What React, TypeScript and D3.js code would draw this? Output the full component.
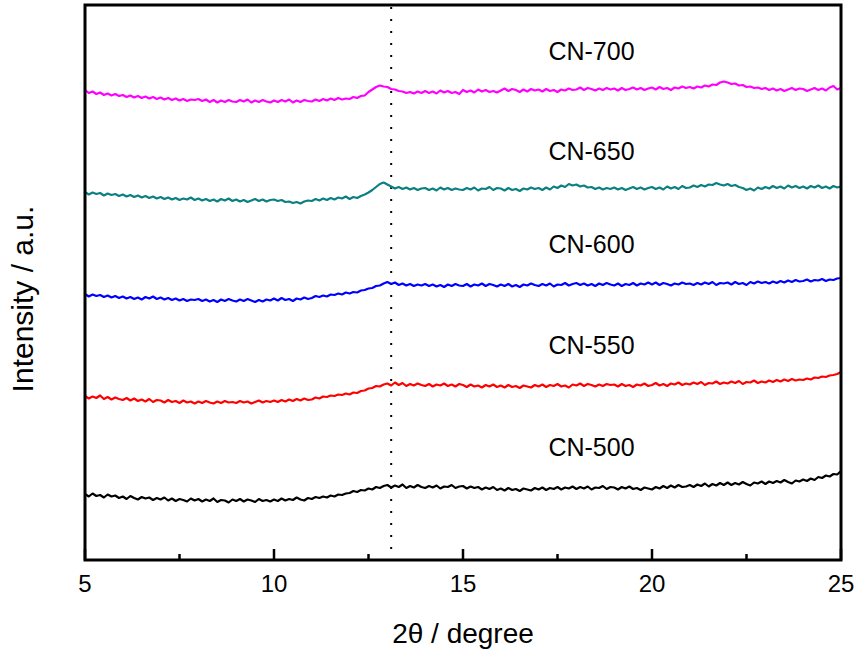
import React, { useEffect, useRef } from "react";
import * as d3 from "d3";

// XRD patterns, 2θ from 5° to 25° sampled every 0.1°, intensity in counts (stacked, offset)
const ANGLE_START = 5;
const ANGLE_STEP = 0.1;

const sampleNames = ["CN-500", "CN-550", "CN-600", "CN-650", "CN-700"];
const sampleColors = ["#000000", "#ff0000", "#0000ff", "#0a8080", "#ff00ff"];

const cn500 = [
  132, 127, 133, 128, 130, 125, 131, 127, 129, 124,
  127, 122, 128, 124, 121, 126, 123, 125, 120, 124,
  121, 125, 119, 123, 118, 122, 120, 117, 123, 119,
  122, 117, 121, 118, 123, 116, 120, 119, 115, 121,
  118, 122, 117, 121, 119, 116, 122, 118, 120, 117,
  121, 118, 123, 119, 122, 120, 125, 121, 119, 124,
  122, 126, 124, 127, 125, 129, 127, 131, 130, 133,
  134, 138, 136, 140, 139, 143, 141, 146, 144, 148,
  150, 145, 149, 146, 151, 144, 148, 145, 150, 146,
  144, 148, 145, 149, 143, 147, 146, 150, 144, 147,
  148, 143, 147, 144, 146, 141, 145, 142, 146, 140,
  143, 139, 144, 140, 142, 138, 143, 141, 139, 144,
  141, 145, 140, 144, 142, 146, 141, 145, 143, 147,
  142, 146, 143, 147, 141, 145, 144, 148, 142, 146,
  145, 141, 146, 143, 147, 142, 144, 140, 145, 143,
  141, 146, 143, 148, 144, 149, 145, 150, 146, 147,
  150, 146, 151, 148, 153, 147, 152, 149, 154, 150,
  155, 150, 154, 151, 156, 152, 149, 155, 153, 157,
  152, 157, 154, 158, 155, 160, 156, 153, 159, 157,
  161, 158, 163, 160, 166, 164, 169, 167, 172, 171,
  178,
];

const cn550 = [
  328, 323, 327, 324, 329, 322, 326, 321, 325, 322,
  320, 324, 319, 323, 318, 321, 317, 322, 316, 320,
  319, 315, 320, 316, 318, 314, 319, 315, 317, 313,
  317, 314, 318, 315, 313, 317, 314, 318, 315, 316,
  314, 318, 315, 317, 313, 316, 319, 315, 318, 316,
  319, 316, 320, 317, 321, 318, 322, 319, 323, 320,
  321, 325, 323, 327, 326, 329, 328, 331, 330, 333,
  331, 335, 334, 338, 339, 343, 344, 348, 347, 351,
  353, 349, 355, 350, 354, 348, 352, 349, 353, 350,
  348, 352, 347, 351, 349, 353, 348, 351, 347, 352,
  350, 346, 351, 347, 349, 345, 350, 347, 351, 346,
  349, 345, 350, 346, 348, 344, 349, 347, 345, 350,
  347, 351, 346, 350, 348, 352, 347, 349, 345, 351,
  349, 353, 348, 352, 350, 347, 351, 348, 352, 350,
  351, 347, 352, 348, 350, 346, 351, 349, 353, 348,
  350, 354, 349, 352, 348, 353, 351, 355, 350, 353,
  351, 355, 352, 356, 350, 354, 353, 357, 352, 355,
  353, 357, 354, 358, 352, 356, 355, 359, 354, 357,
  355, 359, 356, 360, 357, 361, 358, 362, 359, 361,
  360, 363, 361, 365, 364, 367, 366, 369, 370, 372,
  376,
];

const cn600 = [
  532, 527, 531, 528, 530, 526, 529, 525, 528, 524,
  527, 523, 526, 522, 525, 521, 526, 523, 527, 522,
  525, 521, 524, 520, 523, 519, 522, 518, 521, 520,
  522, 518, 521, 517, 520, 516, 521, 518, 522, 519,
  517, 521, 518, 522, 519, 516, 520, 517, 521, 519,
  523, 519, 524, 520, 522, 518, 523, 521, 525, 522,
  524, 528, 526, 529, 527, 531, 530, 533, 531, 535,
  533, 536, 535, 539, 540, 543, 544, 548, 549, 553,
  556, 552, 555, 550, 553, 549, 552, 548, 551, 549,
  552, 548, 551, 547, 550, 546, 551, 548, 552, 549,
  548, 552, 547, 551, 549, 553, 548, 552, 550, 547,
  551, 548, 552, 547, 550, 546, 551, 549, 553, 550,
  548, 552, 549, 553, 547, 551, 550, 554, 549, 552,
  554, 550, 553, 549, 552, 548, 553, 550, 554, 551,
  549, 553, 548, 552, 550, 554, 549, 553, 551, 555,
  551, 555, 550, 554, 552, 549, 553, 551, 555, 552,
  553, 550, 554, 551, 555, 552, 556, 550, 554, 553,
  555, 551, 556, 552, 554, 550, 556, 553, 557, 554,
  556, 553, 557, 554, 558, 555, 559, 556, 560, 557,
  558, 561, 557, 560, 559, 562, 558, 561, 560, 563,
  564,
];

const cn650 = [
  736, 731, 735, 732, 734, 729, 733, 730, 732, 728,
  731, 727, 730, 726, 729, 725, 728, 724, 727, 723,
  726, 722, 725, 721, 724, 720, 723, 721, 725, 720,
  723, 719, 722, 718, 721, 717, 722, 719, 723, 718,
  721, 717, 720, 716, 719, 722, 718, 721, 717, 720,
  721, 718, 720, 716, 717, 714, 716, 713, 717, 719,
  718, 722, 719, 723, 720, 724, 721, 725, 723, 727,
  722, 726, 724, 728, 731, 735, 740, 746, 752, 755,
  751, 747, 743, 746, 742, 745, 741, 744, 740, 743,
  744, 740, 743, 739, 745, 741, 744, 740, 743, 741,
  740, 744, 741, 745, 739, 743, 742, 746, 740, 744,
  743, 739, 744, 740, 742, 738, 743, 741, 745, 742,
  744, 740, 745, 741, 747, 744, 749, 746, 752, 749,
  751, 747, 749, 745, 746, 742, 745, 741, 744, 742,
  745, 741, 744, 740, 743, 746, 742, 745, 741, 744,
  746, 742, 745, 741, 747, 743, 746, 742, 748, 744,
  745, 749, 746, 750, 747, 751, 750, 754, 751, 749,
  752, 748, 750, 746, 744, 740, 743, 739, 745, 742,
  746, 743, 748, 744, 747, 743, 749, 745, 748, 744,
  747, 743, 748, 745, 749, 744, 747, 743, 748, 745,
  747,
];

const cn700 = [
  940, 934, 937, 932, 935, 930, 933, 929, 932, 928,
  930, 926, 929, 925, 928, 924, 927, 923, 926, 922,
  925, 921, 924, 920, 923, 919, 922, 918, 921, 920,
  922, 918, 921, 916, 920, 915, 919, 916, 920, 917,
  916, 920, 917, 921, 915, 919, 916, 920, 917, 915,
  919, 916, 920, 917, 921, 915, 919, 916, 920, 918,
  917, 921, 918, 922, 919, 923, 920, 924, 921, 923,
  922, 926, 924, 928, 929, 936, 941, 946, 949, 947,
  946, 942, 941, 938, 937, 934, 936, 933, 937, 934,
  938, 934, 937, 933, 939, 935, 938, 934, 936, 932,
  940, 936, 939, 935, 941, 937, 940, 936, 938, 935,
  939, 943, 938, 942, 940, 936, 941, 937, 942, 939,
  941, 937, 942, 938, 940, 936, 941, 939, 943, 940,
  941, 945, 940, 944, 942, 939, 943, 940, 944, 941,
  943, 939, 944, 940, 942, 945, 941, 944, 940, 943,
  945, 941, 946, 942, 944, 940, 945, 943, 947, 944,
  946, 943, 947, 945, 949, 947, 951, 950, 955, 957,
  955, 952, 953, 949, 950, 946, 947, 944, 945, 942,
  944, 940, 943, 939, 942, 938, 941, 944, 940, 943,
  942, 938, 941, 944, 940, 943, 939, 945, 948, 941,
  944,
];

const seriesValues = [cn500, cn550, cn600, cn650, cn700];

// where each sample name sits (2θ, intensity of text baseline)
const labelAngle = 18.4;
const labelLevels = [208, 412, 614, 800, 1000];

const xTicks = [5, 10, 15, 20, 25];
const xMinorTicks = [7.5, 12.5, 17.5, 22.5];
const markerAngle = 13.1;

const width = 858;
const height = 657;
const margin = { left: 85, right: 17, top: 5, bottom: 97 };
const font = "Arial, 'Liberation Sans', sans-serif";

const App = () => {
  const svgRef = useRef<SVGSVGElement>(null);

  useEffect(() => {
    const svg = d3.select(svgRef.current);
    svg.selectAll("*").remove();

    const x = d3
      .scaleLinear()
      .domain([5, 25])
      .range([margin.left, width - margin.right]);
    const y = d3
      .scaleLinear()
      .domain([0, 1110])
      .range([height - margin.bottom, margin.top]);

    const [x0, x1] = x.range();
    const [y0, y1] = y.range();

    svg
      .append("rect")
      .attr("width", width)
      .attr("height", height)
      .attr("fill", "#fff");

    // dotted reference line
    svg
      .append("line")
      .attr("x1", x(markerAngle))
      .attr("x2", x(markerAngle))
      .attr("y1", y1 + 2)
      .attr("y2", y0 - 2)
      .attr("stroke", "#000")
      .attr("stroke-width", 2)
      .attr("stroke-dasharray", "2,10");

    const line = d3
      .line<number>()
      .x((_, i) => x(ANGLE_START + i * ANGLE_STEP))
      .y((d) => y(d));

    seriesValues.forEach((vals, i) => {
      svg
        .append("path")
        .datum(vals)
        .attr("d", line)
        .attr("fill", "none")
        .attr("stroke", sampleColors[i])
        .attr("stroke-width", 2.2)
        .attr("stroke-linejoin", "round");
    });

    // sample labels
    sampleNames.forEach((name, i) => {
      svg
        .append("text")
        .attr("x", x(labelAngle))
        .attr("y", y(labelLevels[i]))
        .attr("text-anchor", "middle")
        .style("font-family", font)
        .style("font-size", "25px")
        .style("fill", "#000")
        .text(name);
    });

    // frame
    svg
      .append("rect")
      .attr("x", x0)
      .attr("y", y1)
      .attr("width", x1 - x0)
      .attr("height", y0 - y1)
      .attr("fill", "none")
      .attr("stroke", "#000")
      .attr("stroke-width", 3);

    // ticks pointing inward
    svg
      .selectAll(".major")
      .data(xTicks)
      .enter()
      .append("line")
      .attr("x1", (d) => x(d))
      .attr("x2", (d) => x(d))
      .attr("y1", y0)
      .attr("y2", y0 - 11)
      .attr("stroke", "#000")
      .attr("stroke-width", 2.5);
    svg
      .selectAll(".minor")
      .data(xMinorTicks)
      .enter()
      .append("line")
      .attr("x1", (d) => x(d))
      .attr("x2", (d) => x(d))
      .attr("y1", y0)
      .attr("y2", y0 - 6)
      .attr("stroke", "#000")
      .attr("stroke-width", 2.5);

    svg
      .selectAll(".tick-label")
      .data(xTicks)
      .enter()
      .append("text")
      .attr("x", (d) => x(d))
      .attr("y", y0 + 32)
      .attr("text-anchor", "middle")
      .style("font-family", font)
      .style("font-size", "24px")
      .text((d) => d);

    // axis titles
    svg
      .append("text")
      .attr("x", (x0 + x1) / 2)
      .attr("y", 643)
      .attr("text-anchor", "middle")
      .style("font-family", font)
      .style("font-size", "28px")
      .text("2θ / degree");

    svg
      .append("text")
      .attr("transform", "translate(33, 299) rotate(-90)")
      .attr("text-anchor", "middle")
      .style("font-family", font)
      .style("font-size", "30px")
      .text("Intensity / a.u.");
  }, []);

  return (
    <svg
      ref={svgRef}
      width={width}
      height={height}
      style={{ position: "absolute", left: 0, top: 0 }}
    ></svg>
  );
};

export default App;
